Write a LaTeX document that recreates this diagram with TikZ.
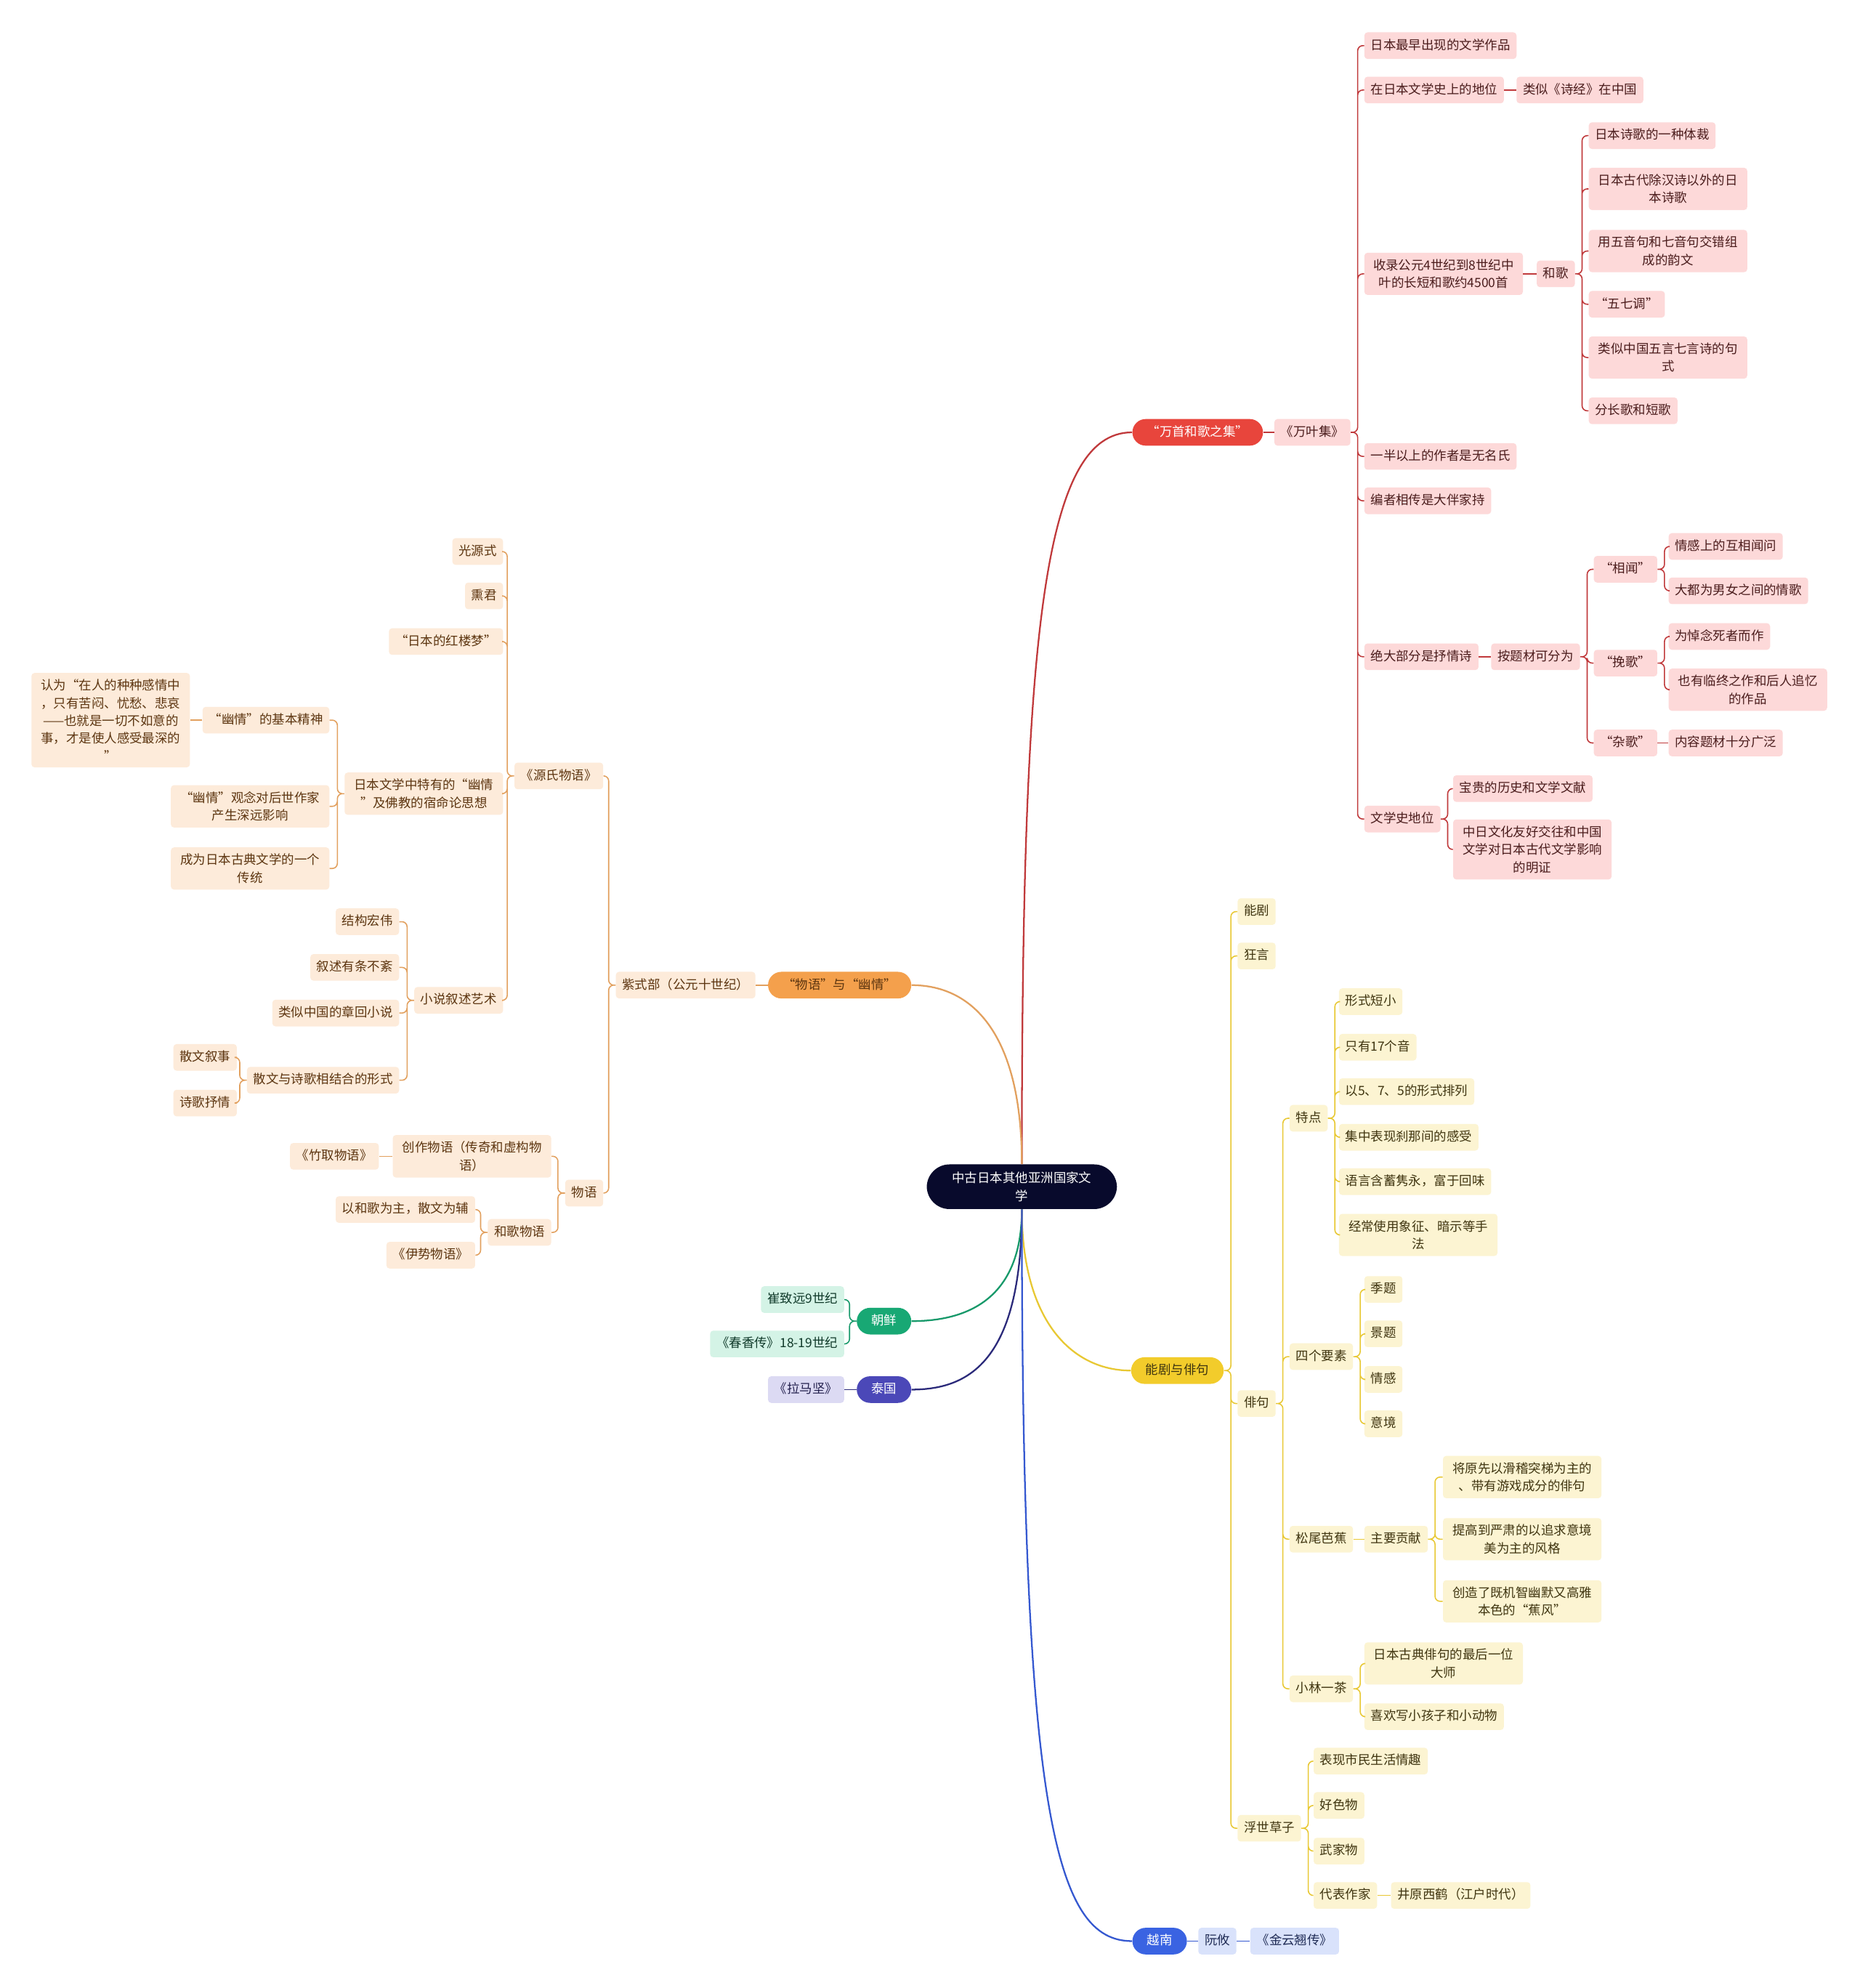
\documentclass[tikz,border=0pt]{standalone}
\usepackage{fontspec}
\setmainfont{Noto Sans CJK SC}
\usepackage{tikz}

\newcommand\nf{\fontsize{10}{12}\selectfont}
\newcommand\nfm{\fontsize{10}{14}\selectfont}

\definecolor{rootfill}{HTML}{080A2C}
\definecolor{redmain}{HTML}{E8453C}
\definecolor{redfill}{HTML}{FDD9D9}
\definecolor{redtext}{HTML}{4A1C1C}
\definecolor{redline}{HTML}{C0393B}
\definecolor{orangemain}{HTML}{F4A04C}
\definecolor{orangefill}{HTML}{FDEBDA}
\definecolor{orangetext}{HTML}{5C3510}
\definecolor{orangeline}{HTML}{E2A05E}
\definecolor{greenmain}{HTML}{18A874}
\definecolor{greenfill}{HTML}{D4F3E6}
\definecolor{greentext}{HTML}{103A2A}
\definecolor{greenline}{HTML}{17996A}
\definecolor{purplemain}{HTML}{4B48B8}
\definecolor{purplefill}{HTML}{DCDAF3}
\definecolor{purpletext}{HTML}{23204E}
\definecolor{purpleline}{HTML}{2B2A7A}
\definecolor{yellowmain}{HTML}{F2CC2B}
\definecolor{yellowfill}{HTML}{FCF4D2}
\definecolor{yellowtext}{HTML}{3F3510}
\definecolor{yellowline}{HTML}{E8C833}
\definecolor{bluemain}{HTML}{3A63E2}
\definecolor{bluefill}{HTML}{D9E2FB}
\definecolor{bluetext}{HTML}{1F2B55}
\definecolor{blueline}{HTML}{3558D0}

\tikzset{
  base/.style={inner xsep=5pt, inner ysep=5.5pt, rounded corners=2.5pt,
    text height=8pt, text depth=2pt, font=\nf},
  wrap/.style={text height={}, text depth={}, text width=113pt, align=center,
    inner xsep=6pt, inner ysep=5pt, font=\nfm},
  main/.style={base, rounded corners=10.5pt, inner xsep=11.5pt},
  rsub/.style={base, fill=redfill, text=redtext, anchor=west},
  osub/.style={base, fill=orangefill, text=orangetext, anchor=east},
  gsub/.style={base, fill=greenfill, text=greentext, anchor=east},
  psub/.style={base, fill=purplefill, text=purpletext, anchor=east},
  ysub/.style={base, fill=yellowfill, text=yellowtext, anchor=west},
  bsub/.style={base, fill=bluefill, text=bluetext, anchor=west},
  rt/.style={to path={-- ++(5.5,0) |- (\tikztotarget)}},
  lt/.style={to path={-- ++(-5.5,0) |- (\tikztotarget)}},
  branch/.style={line width=1.3pt},
  rline/.style={draw=redline, line width=0.9pt, rounded corners=4pt, rt},
  oline/.style={draw=orangeline, line width=0.9pt, rounded corners=4pt, lt},
  gline/.style={draw=greenline, line width=0.9pt, rounded corners=4pt, lt},
  pline/.style={draw=purpleline, line width=0.9pt},
  yline/.style={draw=yellowline, line width=0.9pt, rounded corners=4pt, rt},
  bline/.style={draw=blueline, line width=0.9pt}
}

\begin{document}
\begin{tikzpicture}[x=1pt,y=-1pt]
  \fill[white] (0,0) rectangle (1467,1568);
  \useasboundingbox (0,0) rectangle (1467,1568);

  % centre
  \node[wrap, fill=rootfill, text=white, rounded corners=18pt, text width=126pt,
    inner xsep=12pt, inner ysep=6pt] (root) at (806,936) {中古日本其他亚洲国家文\\学};

  % main topics
  \node[main, fill=redmain, text=white, anchor=west] (wanshou) at (893,341) {“万首和歌之集”};
  \node[main, fill=orangemain, text=orangetext, anchor=east] (wuyu) at (719,777) {“物语”与“幽情”};
  \node[main, fill=greenmain, text=white, anchor=east] (chaoxian) at (719,1042) {朝鲜};
  \node[main, fill=purplemain, text=white, anchor=east] (taiguo) at (719,1096) {泰国};
  \node[main, fill=yellowmain, text=yellowtext, anchor=west] (nengju) at (892,1081) {能剧与俳句};
  \node[main, fill=bluemain, text=white, anchor=west] (yuenan) at (893,1531) {越南};

  \draw[redline, branch] (root.north) .. controls +(0,-420) and +(-70,0) .. (wanshou.west);
  \draw[orangeline, branch] (root.north) .. controls +(0,-100) and +(50,0) .. (wuyu.east);
  \draw[greenline, branch] (root.south) .. controls +(0,70) and +(45,0) .. (chaoxian.east);
  \draw[purpleline, branch] (root.south) .. controls +(0,120) and +(45,0) .. (taiguo.east);
  \draw[yellowline, branch] (root.south) .. controls +(0,90) and +(-45,0) .. (nengju.west);
  \draw[blueline, branch] (root.south) .. controls +(0,480) and +(-60,0) .. (yuenan.west);

  % 万叶集
  \node[rsub] (wanye) at (1005,341) {《万叶集》};
  \node[rsub] (zuizao) at (1076,36) {日本最早出现的文学作品};
  \node[rsub] (diwei) at (1076,71) {在日本文学史上的地位};
  \node[rsub] (shijing) at (1196,71) {类似《诗经》在中国};
  \node[rsub, wrap] (shoulu) at (1076,216) {收录公元4世纪到8世纪中\\叶的长短和歌约4500首};
  \node[rsub] (hege) at (1212,216) {和歌};
  \node[rsub] (ticai) at (1253,107) {日本诗歌的一种体裁};
  \node[rsub, wrap] (hanshi) at (1253,149) {日本古代除汉诗以外的日\\本诗歌};
  \node[rsub, wrap] (yunwen) at (1253,198) {用五音句和七音句交错组\\成的韵文};
  \node[rsub] (wuqi) at (1253,240) {“五七调”};
  \node[rsub, wrap] (jushi) at (1253,282) {类似中国五言七言诗的句\\式};
  \node[rsub] (changduan) at (1253,324) {分长歌和短歌};
  \node[rsub] (wuming) at (1076,360) {一半以上的作者是无名氏};
  \node[rsub] (bianzhe) at (1076,395) {编者相传是大伴家持};
  \node[rsub] (shuqing) at (1076,518) {绝大部分是抒情诗};
  \node[rsub] (fenwei) at (1176,518) {按题材可分为};
  \node[rsub] (xiangwen) at (1257,449) {“相闻”};
  \node[rsub] (huwen) at (1316,431) {情感上的互相闻问};
  \node[rsub] (qingge) at (1316,466) {大都为男女之间的情歌};
  \node[rsub] (wange) at (1257,523) {“挽歌”};
  \node[rsub] (daonian) at (1316,502) {为悼念死者而作};
  \node[rsub, wrap] (linzhong) at (1316,544) {也有临终之作和后人追忆\\的作品};
  \node[rsub] (zage) at (1257,586) {“杂歌”};
  \node[rsub] (guangfan) at (1316,586) {内容题材十分广泛};
  \node[rsub] (wxs) at (1076,646) {文学史地位};
  \node[rsub] (wenxian) at (1146,622) {宝贵的历史和文学文献};
  \node[rsub, wrap] (mingzheng) at (1146,670) {中日文化友好交往和中国\\文学对日本古代文学影响\\的明证};

  \draw[rline] (wanshou.east) -- (wanye.west);
  \draw[rline] (wanye.east) to (zuizao.west) (wanye.east) to (diwei.west)
    (wanye.east) to (shoulu.west) (wanye.east) to (wuming.west)
    (wanye.east) to (bianzhe.west) (wanye.east) to (shuqing.west)
    (wanye.east) to (wxs.west);
  \draw[rline] (diwei.east) -- (shijing.west);
  \draw[rline] (shoulu.east) -- (hege.west);
  \draw[rline] (hege.east) to (ticai.west) (hege.east) to (hanshi.west)
    (hege.east) to (yunwen.west) (hege.east) to (wuqi.west)
    (hege.east) to (jushi.west) (hege.east) to (changduan.west);
  \draw[rline] (shuqing.east) -- (fenwei.west);
  \draw[rline] (fenwei.east) to (xiangwen.west) (fenwei.east) to (wange.west)
    (fenwei.east) to (zage.west);
  \draw[rline] (xiangwen.east) to (huwen.west) (xiangwen.east) to (qingge.west);
  \draw[rline] (wange.east) to (daonian.west) (wange.east) to (linzhong.west);
  \draw[rline] (zage.east) -- (guangfan.west);
  \draw[rline] (wxs.east) to (wenxian.west) (wxs.east) to (mingzheng.west);

  % 紫式部
  \node[osub] (zishibu) at (596,777) {紫式部（公元十世纪）};
  \node[osub] (yuanshi) at (476,612) {《源氏物语》};
  \node[osub] (guangyuan) at (397,435) {光源式};
  \node[osub] (xunjun) at (397,470) {熏君};
  \node[osub] (honglou) at (397,506) {“日本的红楼梦”};
  \node[osub, wrap] (youqing) at (397,626) {日本文学中特有的“幽情\\”及佛教的宿命论思想};
  \node[osub] (jingshen) at (260,568) {“幽情”的基本精神};
  \node[osub, wrap] (renwei) at (150,568) {认为“在人的种种感情中\\，只有苦闷、忧愁、悲哀\\——也就是一切不如意的\\事，才是使人感受最深的\\”};
  \node[osub, wrap] (houshi) at (260,636) {“幽情”观念对后世作家\\产生深远影响};
  \node[osub, wrap] (chuantong) at (260,685) {成为日本古典文学的一个\\传统};
  \node[osub] (xushu) at (397,789) {小说叙述艺术};
  \node[osub] (hongwei) at (315,727) {结构宏伟};
  \node[osub] (youtiao) at (315,763) {叙述有条不紊};
  \node[osub] (zhanghui) at (315,799) {类似中国的章回小说};
  \node[osub] (jiehe) at (315,852) {散文与诗歌相结合的形式};
  \node[osub] (xushi) at (187,834) {散文叙事};
  \node[osub] (shuqingb) at (187,870) {诗歌抒情};
  \node[osub] (wuyub) at (476,941) {物语};
  \node[osub, wrap] (chuangzuo) at (435,912) {创作物语（传奇和虚构物\\语）};
  \node[osub] (zhuqu) at (299,912) {《竹取物语》};
  \node[osub] (hegewy) at (435,972) {和歌物语};
  \node[osub] (yihe) at (375,954) {以和歌为主，散文为辅};
  \node[osub] (yishi) at (375,990) {《伊势物语》};

  \draw[oline] (wuyu.west) -- (zishibu.east);
  \draw[oline] (zishibu.west) to (yuanshi.east) (zishibu.west) to (wuyub.east);
  \draw[oline] (yuanshi.west) to (guangyuan.east) (yuanshi.west) to (xunjun.east)
    (yuanshi.west) to (honglou.east) (yuanshi.west) to (youqing.east)
    (yuanshi.west) to (xushu.east);
  \draw[oline] (youqing.west) to (jingshen.east) (youqing.west) to (houshi.east)
    (youqing.west) to (chuantong.east);
  \draw[oline] (jingshen.west) -- (renwei.east);
  \draw[oline] (xushu.west) to (hongwei.east) (xushu.west) to (youtiao.east)
    (xushu.west) to (zhanghui.east) (xushu.west) to (jiehe.east);
  \draw[oline] (jiehe.west) to (xushi.east) (jiehe.west) to (shuqingb.east);
  \draw[oline] (wuyub.west) to (chuangzuo.east) (wuyub.west) to (hegewy.east);
  \draw[oline] (chuangzuo.west) -- (zhuqu.east);
  \draw[oline] (hegewy.west) to (yihe.east) (hegewy.west) to (yishi.east);

  % 朝鲜, 泰国
  \node[gsub] (cui) at (666,1025) {崔致远9世纪};
  \node[gsub] (chunxiang) at (666,1060) {《春香传》18-19世纪};
  \node[psub] (lama) at (666,1096) {《拉马坚》};

  \draw[gline] (chaoxian.west) to (cui.east) (chaoxian.west) to (chunxiang.east);
  \draw[pline] (taiguo.west) -- (lama.east);

  % 能剧与俳句
  \node[ysub] (nj) at (976,719) {能剧};
  \node[ysub] (kuangyan) at (976,754) {狂言};
  \node[ysub] (paiju) at (976,1107) {俳句};
  \node[ysub] (tedian) at (1017,882) {特点};
  \node[ysub] (duanxiao) at (1056,790) {形式短小};
  \node[ysub] (shiqi) at (1056,826) {只有17个音};
  \node[ysub] (pailie) at (1056,861) {以5、7、5的形式排列};
  \node[ysub] (chuna) at (1056,897) {集中表现刹那间的感受};
  \node[ysub] (hanxu) at (1056,932) {语言含蓄隽永，富于回味};
  \node[ysub, wrap] (xiangzheng) at (1056,974) {经常使用象征、暗示等手\\法};
  \node[ysub] (yaosu) at (1017,1070) {四个要素};
  \node[ysub] (jiti) at (1076,1017) {季题};
  \node[ysub] (jingti) at (1076,1052) {景题};
  \node[ysub] (qinggan) at (1076,1088) {情感};
  \node[ysub] (yijing) at (1076,1123) {意境};
  \node[ysub] (songwei) at (1017,1214) {松尾芭蕉};
  \node[ysub] (gongxian) at (1076,1214) {主要贡献};
  \node[ysub, wrap] (huaji) at (1138,1165) {将原先以滑稽突梯为主的\\、带有游戏成分的俳句};
  \node[ysub, wrap] (yansu) at (1138,1214) {提高到严肃的以追求意境\\美为主的风格};
  \node[ysub, wrap] (jiaofeng) at (1138,1263) {创造了既机智幽默又高雅\\本色的“蕉风”};
  \node[ysub] (xiaolin) at (1017,1332) {小林一茶};
  \node[ysub, wrap] (dashi) at (1076,1312) {日本古典俳句的最后一位\\大师};
  \node[ysub] (xihuan) at (1076,1354) {喜欢写小孩子和小动物};
  \node[ysub] (fushi) at (976,1442) {浮世草子};
  \node[ysub] (qingqu) at (1036,1389) {表现市民生活情趣};
  \node[ysub] (haose) at (1036,1424) {好色物};
  \node[ysub] (wujia) at (1036,1460) {武家物};
  \node[ysub] (daibiao) at (1036,1495) {代表作家};
  \node[ysub] (jingyuan) at (1097,1495) {井原西鹤（江户时代）};

  \draw[yline] (nengju.east) to (nj.west) (nengju.east) to (kuangyan.west)
    (nengju.east) to (paiju.west) (nengju.east) to (fushi.west);
  \draw[yline] (paiju.east) to (tedian.west) (paiju.east) to (yaosu.west)
    (paiju.east) to (songwei.west) (paiju.east) to (xiaolin.west);
  \draw[yline] (tedian.east) to (duanxiao.west) (tedian.east) to (shiqi.west)
    (tedian.east) to (pailie.west) (tedian.east) to (chuna.west)
    (tedian.east) to (hanxu.west) (tedian.east) to (xiangzheng.west);
  \draw[yline] (yaosu.east) to (jiti.west) (yaosu.east) to (jingti.west)
    (yaosu.east) to (qinggan.west) (yaosu.east) to (yijing.west);
  \draw[yline] (songwei.east) -- (gongxian.west);
  \draw[yline] (gongxian.east) to (huaji.west) (gongxian.east) to (yansu.west)
    (gongxian.east) to (jiaofeng.west);
  \draw[yline] (xiaolin.east) to (dashi.west) (xiaolin.east) to (xihuan.west);
  \draw[yline] (fushi.east) to (qingqu.west) (fushi.east) to (haose.west)
    (fushi.east) to (wujia.west) (fushi.east) to (daibiao.west);
  \draw[yline] (daibiao.east) -- (jingyuan.west);

  % 越南
  \node[bsub] (ruanyou) at (945,1531) {阮攸};
  \node[bsub] (jinyun) at (986,1531) {《金云翘传》};

  \draw[bline] (yuenan.east) -- (ruanyou.west);
  \draw[bline] (ruanyou.east) -- (jinyun.west);
\end{tikzpicture}
\end{document}
